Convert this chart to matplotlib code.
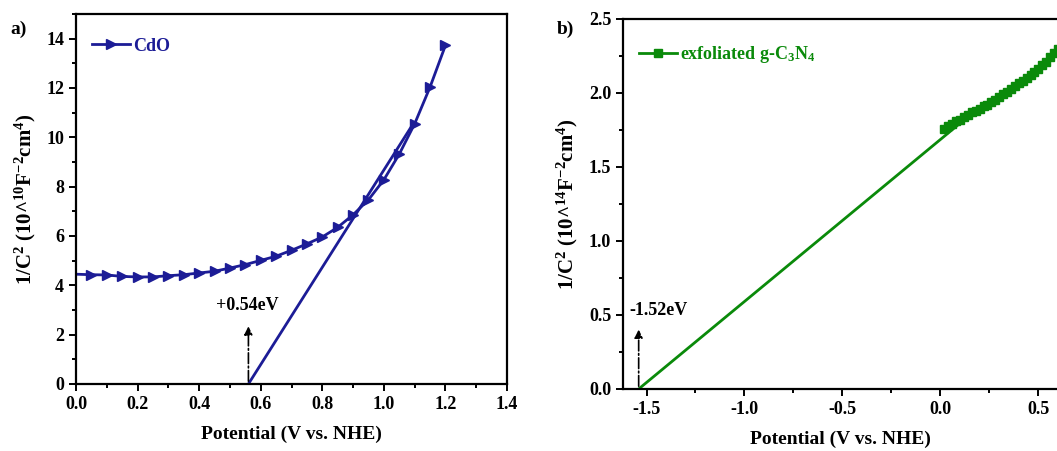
import numpy as np
import matplotlib
matplotlib.use("Agg")
import matplotlib.pyplot as plt
from matplotlib.ticker import MultipleLocator

# ---- data ----
cdo_v = [0.0, 0.05, 0.10, 0.15, 0.20, 0.25, 0.30, 0.35, 0.40, 0.45, 0.50, 0.55,
         0.60, 0.65, 0.70, 0.75, 0.80, 0.85, 0.90, 0.95, 1.00, 1.05, 1.10, 1.15, 1.20]
cdo_c = [4.45, 4.43, 4.42, 4.36, 4.34, 4.34, 4.39, 4.43, 4.50, 4.57, 4.70, 4.84,
         5.01, 5.18, 5.42, 5.68, 5.96, 6.35, 6.86, 7.47, 8.28, 9.32, 10.55, 12.04, 13.73]
cdo_fit_v = [0.56, 1.09]
cdo_fit_c = [0.0, 10.45]
cdo_edge = 0.56

cn_v = [0.02, 0.04, 0.06, 0.08, 0.10, 0.12, 0.14, 0.16, 0.18, 0.20, 0.22, 0.24,
        0.26, 0.28, 0.30, 0.32, 0.34, 0.36, 0.38, 0.40, 0.42, 0.44, 0.46, 0.48,
        0.50, 0.52, 0.54, 0.56, 0.58, 0.60]
cn_c = [1.76, 1.78, 1.79, 1.81, 1.82, 1.84, 1.85, 1.87, 1.88, 1.89, 1.91, 1.92,
        1.94, 1.95, 1.97, 1.99, 2.01, 2.03, 2.05, 2.07, 2.08, 2.10, 2.12, 2.14,
        2.16, 2.19, 2.21, 2.24, 2.27, 2.30]
cn_fit_v = [-1.54, 0.15]
cn_fit_c = [0.0, 1.85]
cn_edge = -1.54

plt.rcParams['font.family'] = ['Liberation Serif', 'DejaVu Serif']
plt.rcParams['font.weight'] = 'bold'
plt.rcParams['mathtext.fontset'] = 'custom'
plt.rcParams['mathtext.rm'] = 'Liberation Serif:bold'
plt.rcParams['mathtext.it'] = 'Liberation Serif:bold'
plt.rcParams['mathtext.bf'] = 'Liberation Serif:bold'
plt.rcParams['mathtext.default'] = 'bf'

blue = '#1c1c96'
green = '#0a8a0a'

fig = plt.figure(figsize=(10.57, 4.51), dpi=100)
ax1 = fig.add_axes([0.0719, 0.1486, 0.4078, 0.8204])
ax2 = fig.add_axes([0.5894, 0.1375, 0.4106, 0.8204])

for ax in (ax1, ax2):
    for s in ax.spines.values():
        s.set_linewidth(1.6)
    ax.tick_params(which='both', direction='out', top=False, right=False,
                   labelsize=13, width=1.4)
    ax.tick_params(which='major', length=5)
    ax.tick_params(which='minor', length=3)

# ---- panel a ----
ax1.plot(cdo_v, cdo_c, color=blue, lw=2, marker='>', ms=7.5,
         markevery=slice(1, None), label='CdO')
ax1.plot(cdo_fit_v, cdo_fit_c, color=blue, lw=2)
ax1.annotate('', xy=(cdo_edge, 2.45), xytext=(cdo_edge, 0),
             arrowprops=dict(arrowstyle='-|>', color='black', lw=1.2,
                             linestyle='dashdot', mutation_scale=12))
ax1.text(cdo_edge - 0.005, 2.85, '+0.54eV', ha='center', va='bottom',
         fontsize=13, fontweight='bold')
ax1.set_xlim(0, 1.4)
ax1.set_ylim(0, 15)
xt1 = [0.0, 0.2, 0.4, 0.6, 0.8, 1.0, 1.2, 1.4]
yt1 = [0, 2, 4, 6, 8, 10, 12, 14]
ax1.set_xticks(xt1)
ax1.set_xticklabels([f'{v:.1f}' for v in xt1], fontweight='bold')
ax1.set_yticks(yt1)
ax1.set_yticklabels([str(v) for v in yt1], fontweight='bold')
ax1.xaxis.set_minor_locator(MultipleLocator(0.1))
ax1.yaxis.set_minor_locator(MultipleLocator(1))
ax1.set_xlabel('Potential (V vs. NHE)', fontsize=14, fontweight='bold', labelpad=9)
ax1.set_ylabel(r'1/C$^{2}$ (10^$^{10}$F$^{-2}$cm$^{4}$)', fontsize=15,
               fontweight='bold', labelpad=6)
ax1.legend(loc='upper left', bbox_to_anchor=(0.0, 0.98), frameon=False,
           handlelength=2.1, handletextpad=0.15, fontsize=13,
           labelcolor='linecolor')
fig.text(0.010, 0.925, 'a)', fontsize=14, fontweight='bold')

# ---- panel b ----
ax2.plot(cn_v, cn_c, color=green, lw=2, marker='s', ms=6,
         label=r'exfoliated g-C$_{3}$N$_{4}$')
ax2.plot(cn_fit_v, cn_fit_c, color=green, lw=2)
ax2.annotate('', xy=(cn_edge, 0.42), xytext=(cn_edge, 0),
             arrowprops=dict(arrowstyle='-|>', color='black', lw=1.2,
                             linestyle='dashdot', mutation_scale=12))
ax2.text(cn_edge - 0.045, 0.47, '-1.52eV', ha='left', va='bottom',
         fontsize=13, fontweight='bold')
ax2.set_xlim(-1.62, 0.595)
ax2.set_ylim(0, 2.5)
ax2.spines['right'].set_visible(False)
xt2 = [-1.5, -1.0, -0.5, 0.0, 0.5]
yt2 = [0.0, 0.5, 1.0, 1.5, 2.0, 2.5]
ax2.set_xticks(xt2)
ax2.set_xticklabels([f'{v:.1f}' for v in xt2], fontweight='bold')
ax2.set_yticks(yt2)
ax2.set_yticklabels([f'{v:.1f}' for v in yt2], fontweight='bold')
ax2.xaxis.set_minor_locator(MultipleLocator(0.25))
ax2.yaxis.set_minor_locator(MultipleLocator(0.25))
ax2.set_xlabel('Potential (V vs. NHE)', fontsize=14, fontweight='bold', labelpad=9)
ax2.set_ylabel(r'1/C$^{2}$ (10^$^{14}$F$^{-2}$cm$^{4}$)', fontsize=15,
               fontweight='bold', labelpad=6)
ax2.legend(loc='upper left', bbox_to_anchor=(0.0, 0.975), frameon=False,
           handlelength=2.1, handletextpad=0.15, fontsize=13,
           labelcolor='linecolor')
fig.text(0.527, 0.925, 'b)', fontsize=14, fontweight='bold')

fig.savefig('out.png', dpi=100)
